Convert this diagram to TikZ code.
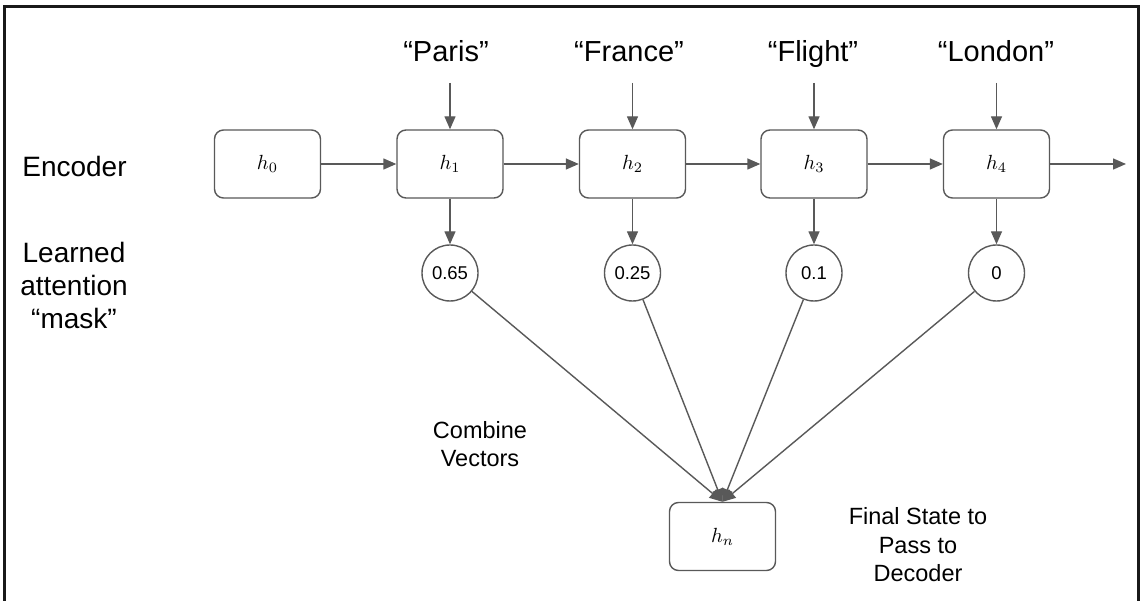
\documentclass[tikz,border=0pt]{standalone}
\usepackage{graphicx}
\usepackage[no-math]{fontspec}
\setmainfont{Liberation Sans}
\usetikzlibrary{arrows.meta}
\definecolor{linegray}{HTML}{595959}
\newcommand{\hm}[1]{\scalebox{2.05}{$#1$}}
\tikzset{
  hbox/.style={draw=linegray, line width=1.4pt, rounded corners=9pt, minimum width=106pt, minimum height=68pt, inner sep=0pt},
  wbox/.style={draw=linegray, line width=1.4pt, circle, minimum size=56pt, inner sep=0pt, font=\fontsize{18.5}{20}\selectfont},
  conn/.style={draw=linegray, line width=1.4pt, -{Triangle[length=13pt,width=11pt]}},
  word/.style={font=\fontsize{29}{33}\selectfont, anchor=base},
  side/.style={font=\fontsize{28}{33}\selectfont, align=center},
  note/.style={font=\fontsize{23.5}{28.5}\selectfont, align=center}
}
\begin{document}
\begin{tikzpicture}[x=1pt,y=-1pt]
\useasboundingbox (0,0) rectangle (1141,601);
\fill[white] (0,0) rectangle (1141,601);
\draw[line width=3pt, black!90] (4.5,601) -- (4.5,7) -- (1138,7) -- (1138,601);

% encoder boxes
\node[hbox] (h0) at (267.5,164) {\hm{h_0}};
\node[hbox] (h1) at (450,164) {\hm{h_1}};
\node[hbox] (h2) at (632.5,164) {\hm{h_2}};
\node[hbox] (h3) at (814,164) {\hm{h_3}};
\node[hbox] (h4) at (996.5,164) {\hm{h_4}};
\coordinate (out) at (1126,164);

% input words
\node[word] (w1) at (446,62) {“Paris”};
\node[word] (w2) at (629,62) {“France”};
\node[word] (w3) at (813,62) {“Flight”};
\node[word] (w4) at (996,62) {“London”};
\coordinate (t1) at (450,83);
\coordinate (t2) at (632.5,83);
\coordinate (t3) at (814,83);
\coordinate (t4) at (996.5,83);

% weights
\node[wbox] (c1) at (450,273) {0.65};
\node[wbox] (c2) at (632.5,273) {0.25};
\node[wbox] (c3) at (814,273) {0.1};
\node[wbox] (c4) at (996.5,273) {0};

% final state
\node[hbox] (hn) at (722.5,536.5) {\hm{h_n}};

% labels
\node[side] (enc) at (74.5,166) {Encoder};
\node[side] (lam) at (74,285) {Learned\\attention\\“mask”};
\node[note] (comb) at (480,444) {Combine\\Vectors};
\node[note] (fin) at (918,545) {Final State to\\Pass to\\Decoder};

% connectors
\draw[conn] (h0) -- (h1);
\draw[conn] (h1) -- (h2);
\draw[conn] (h2) -- (h3);
\draw[conn] (h3) -- (h4);
\draw[conn] (h4) -- (out);
\draw[conn] (t1) -- (h1);
\draw[conn] (t2) -- (h2);
\draw[conn] (t3) -- (h3);
\draw[conn] (t4) -- (h4);
\draw[conn] (h1) -- (c1);
\draw[conn] (h2) -- (c2);
\draw[conn] (h3) -- (c3);
\draw[conn] (h4) -- (c4);
\draw[conn] (c1) -- (hn.north);
\draw[conn] (c2) -- (hn.north);
\draw[conn] (c3) -- (hn.north);
\draw[conn] (c4) -- (hn.north);
\end{tikzpicture}
\end{document}
